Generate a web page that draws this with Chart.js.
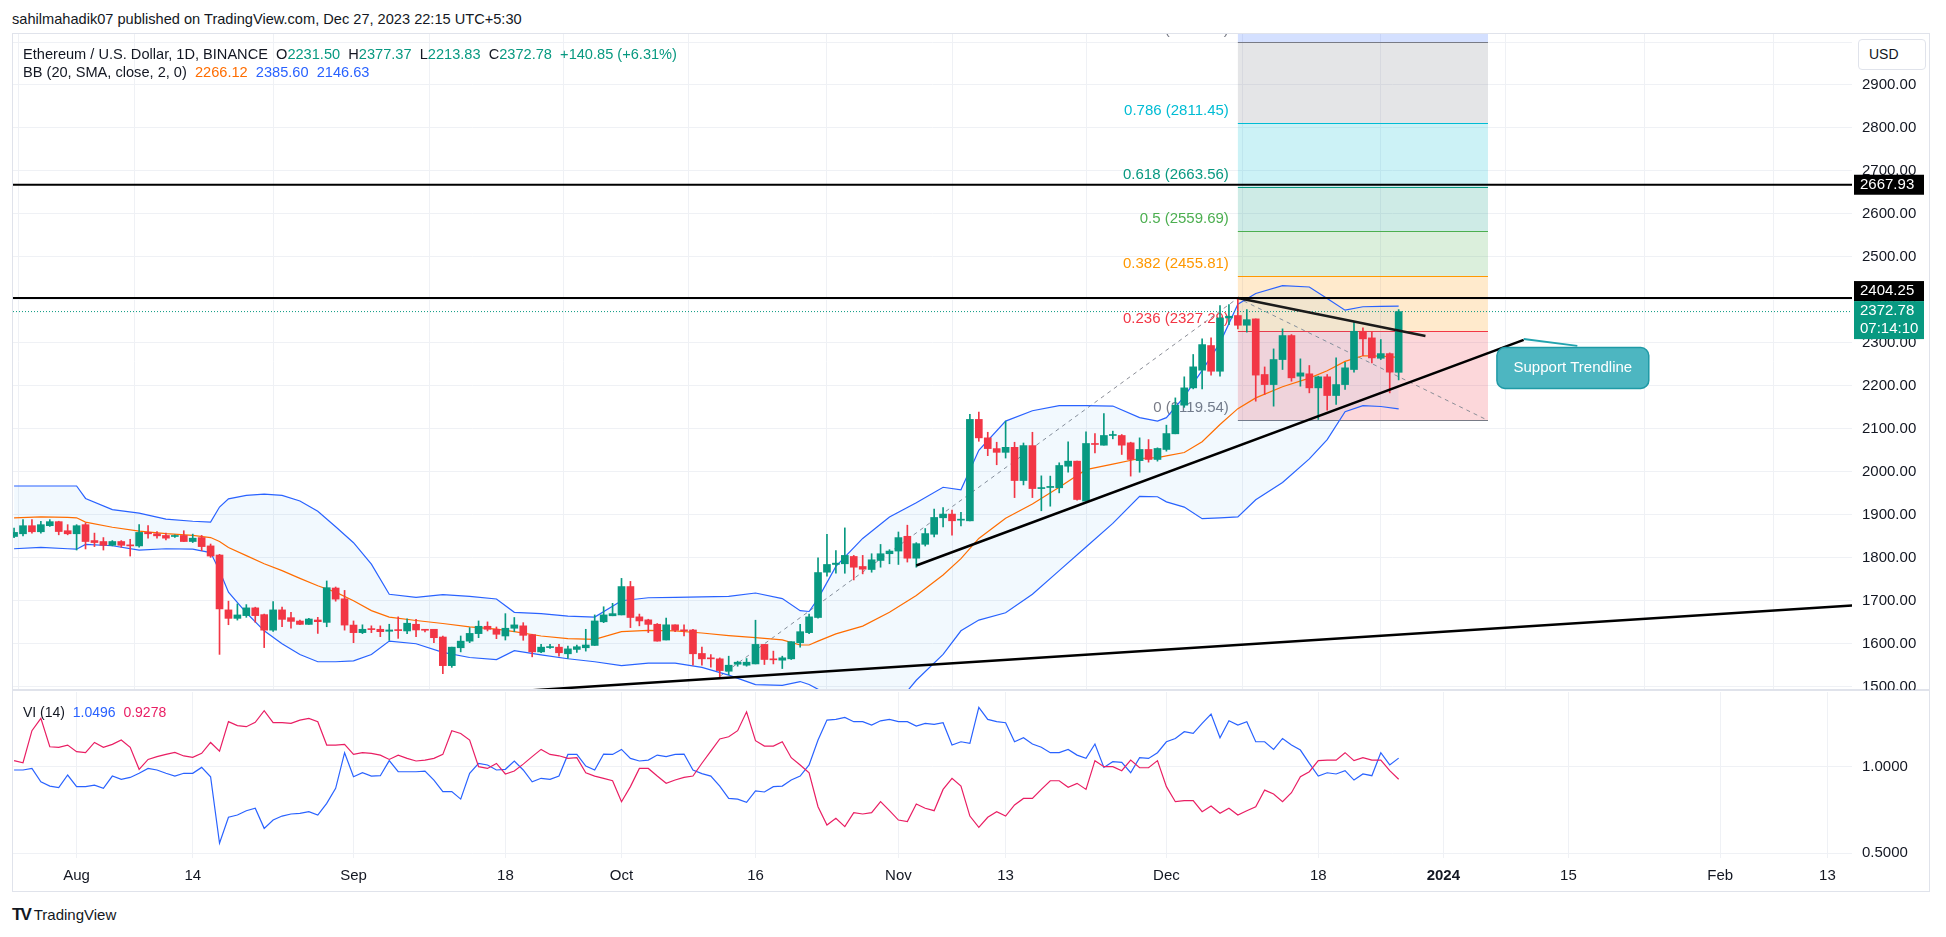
<!DOCTYPE html>
<html lang="en">
<head>
<meta charset="UTF-8" />
<title>ETHUSD 1D</title>
<script src="https://cdn.jsdelivr.net/npm/chart.js"></script>
<style>
  html, body { margin: 0; padding: 0; background: #fff; }
  body { position: relative; width: 1946px; height: 937px; overflow: hidden;
         font-family: "Liberation Sans", Arial, sans-serif; color: #131722; }
  .abs { position: absolute; }
  #pub { left: 12px; top: 11px; font-size: 14.6px; }
  #frame { left: 12px; top: 33px; width: 1918px; height: 859px; border: 1px solid #e0e3eb; box-sizing: border-box; }
  #sep { left: 12px; top: 689px; width: 1918px; height: 2px; background: #e0e3eb; }
  #mainBox { left: 0; top: 0; }
  #viBox { left: 0; top: 690px; }
  .legend { font-size: 14.6px; white-space: pre; z-index: 3; line-height: 18px; }
  #leg1 { left: 23px; top: 45px; }
  #leg2 { left: 23px; top: 63px; }
  #legVI { left: 23px; top: 703px; font-size: 14px; }
  #usd { left: 1858px; top: 39px; width: 68px; height: 31px; box-sizing: border-box; border: 1px solid #e0e3eb;
         border-radius: 4px; background: #fff; font-size: 14px; line-height: 29px; padding-left: 10px; z-index: 3; }
  #logo { left: 12px; top: 905px; font-size: 15px; }
  #logo b { font-size: 17px; letter-spacing: -2px; margin-right: 4px; }
</style>
</head>
<body>
<div id="pub" class="abs">sahilmahadik07 published on TradingView.com, Dec 27, 2023 22:15 UTC+5:30</div>
<div id="frame" class="abs"></div>
<div id="sep" class="abs"></div>
<div id="mainBox" class="abs"><canvas id="main" width="1946" height="690"></canvas></div>
<div id="viBox" class="abs"><canvas id="vi" width="1946" height="210"></canvas></div>
<div id="leg1" class="abs legend"></div>
<div id="leg2" class="abs legend"></div>
<div id="legVI" class="abs legend"></div>
<div id="usd" class="abs">USD</div>
<div id="logo" class="abs"><b>TV</b>TradingView</div>
<script>
// ---- daily candles, one per day from firstCandle ----
const firstCandle = '2023-07-25'
const opens = [
  1849.5, 1855.8, 1874.6, 1860.5, 1874.6, 1884.0, 1862.9,
  1855.8, 1877.0, 1840.0, 1837.8, 1829.0, 1837.8, 1830.0, 1827.6, 1859.0, 1855.8,
  1851.9, 1849.5, 1851.9, 1837.8, 1847.0, 1827.6, 1806.4, 1678.7, 1659.0, 1665.4,
  1683.4, 1667.7, 1631.6, 1678.7, 1660.6, 1652.8, 1645.0, 1655.2, 1649.7, 1729.6,
  1704.5, 1643.4, 1625.8, 1635.0, 1633.6, 1629.0, 1632.0, 1629.7, 1645.3, 1633.6,
  1633.6, 1615.6, 1549.0, 1590.6, 1606.0, 1623.5, 1640.6, 1633.6, 1618.0, 1636.0,
  1641.6, 1621.0, 1581.0, 1591.0, 1592.0, 1576.6, 1586.7, 1590.6, 1596.0, 1651.0,
  1665.0, 1667.0, 1733.0, 1662.5, 1655.5, 1645.3, 1608.6, 1644.0, 1632.0, 1632.0,
  1577.3, 1567.0, 1564.8, 1536.0, 1552.3, 1550.0, 1553.0, 1598.4, 1564.8, 1561.7,
  1564.8, 1602.3, 1625.8, 1661.0, 1766.4, 1784.4, 1786.0, 1803.0, 1779.7, 1772.7,
  1793.7, 1809.4, 1815.6, 1850.0, 1799.0, 1831.3, 1854.7, 1893.0, 1901.6, 1887.5,
  1885.9, 2121.9, 2079.0, 2054.0, 2045.3, 2057.0, 1979.7, 2061.0, 1961.0, 1963.5,
  1962.8, 2013.0, 2024.8, 1931.8, 2065.9, 2061.9, 2084.5, 2084.5, 2067.4, 2026.0,
  2052.0, 2028.7, 2052.0, 2088.4, 2155.0, 2195.3, 2236.4, 2293.8, 2234.0, 2358.0,
  2363.6, 2341.0, 2355.8, 2226.4, 2203.0, 2261.2, 2317.0, 2222.5, 2228.0, 2195.3,
  2221.0, 2177.5, 2203.0, 2238.0, 2327.0, 2311.6, 2264.2, 2275.0, 2231.50
]
const highs = [
  1869.0, 1888.7, 1888.7, 1884.8, 1888.7, 1885.0, 1877.0,
  1877.0, 1881.0, 1857.4, 1847.0, 1840.0, 1840.0, 1843.0, 1877.0, 1874.6, 1861.0,
  1857.4, 1853.4, 1862.9, 1855.0, 1852.0, 1832.0, 1808.0, 1699.0, 1692.8, 1691.0,
  1685.0, 1669.0, 1698.0, 1685.0, 1673.0, 1655.0, 1659.0, 1661.4, 1746.0, 1732.0,
  1724.0, 1653.0, 1644.0, 1641.6, 1641.6, 1645.3, 1662.5, 1657.8, 1657.0, 1633.6,
  1633.6, 1618.0, 1592.0, 1618.0, 1637.5, 1653.0, 1650.8, 1639.0, 1670.0, 1661.0,
  1649.0, 1622.0, 1598.5, 1598.5, 1598.5, 1594.5, 1597.0, 1633.6, 1667.0, 1686.0,
  1694.0, 1752.0, 1745.0, 1669.0, 1657.0, 1647.0, 1659.4, 1644.0, 1644.0, 1633.6,
  1592.0, 1575.0, 1567.0, 1571.0, 1559.4, 1565.6, 1654.7, 1598.4, 1582.8, 1571.0,
  1604.7, 1645.3, 1668.8, 1800.0, 1854.7, 1817.0, 1869.5, 1805.5, 1805.5, 1809.4,
  1831.0, 1818.8, 1860.0, 1875.8, 1835.2, 1868.0, 1913.3, 1917.0, 1911.0, 1905.5,
  2133.6, 2139.0, 2092.0, 2068.8, 2118.0, 2068.8, 2067.0, 2092.0, 1990.6, 1990.0,
  2021.0, 2069.8, 2024.8, 2093.0, 2089.0, 2135.7, 2094.6, 2086.8, 2068.9, 2079.0,
  2075.0, 2055.8, 2108.5, 2172.0, 2221.0, 2273.0, 2309.3, 2311.6, 2386.8, 2389.0,
  2404.3, 2377.5, 2355.8, 2244.0, 2286.0, 2332.6, 2319.4, 2262.8, 2247.3, 2222.5,
  2226.4, 2265.0, 2255.0, 2350.4, 2334.9, 2327.0, 2307.8, 2276.7, 2377.37
]
const lows = [
  1847.0, 1851.0, 1857.4, 1857.4, 1873.0, 1853.4, 1853.4,
  1818.0, 1820.5, 1826.0, 1818.0, 1827.6, 1824.5, 1804.0, 1824.5, 1845.6, 1845.6,
  1841.7, 1847.2, 1837.8, 1835.4, 1816.6, 1801.0, 1575.2, 1644.2, 1655.0, 1661.4,
  1650.0, 1591.0, 1628.5, 1639.5, 1636.4, 1644.2, 1645.0, 1624.0, 1639.5, 1699.0,
  1631.6, 1602.4, 1623.5, 1625.8, 1616.4, 1607.8, 1612.5, 1623.5, 1616.4, 1627.3,
  1602.4, 1530.5, 1545.0, 1581.0, 1602.4, 1614.0, 1629.7, 1611.7, 1608.6, 1628.0,
  1608.0, 1569.5, 1578.9, 1589.0, 1571.0, 1565.6, 1580.0, 1582.8, 1596.0, 1649.0,
  1665.0, 1667.0, 1637.5, 1641.6, 1626.0, 1606.0, 1608.6, 1628.0, 1618.0, 1550.0,
  1550.0, 1545.3, 1520.3, 1528.0, 1547.7, 1547.7, 1553.0, 1551.6, 1553.0, 1542.2,
  1563.3, 1592.0, 1623.4, 1659.4, 1757.0, 1764.0, 1764.0, 1748.4, 1762.5, 1766.4,
  1778.0, 1786.0, 1784.4, 1790.0, 1778.0, 1827.3, 1848.4, 1871.9, 1852.3, 1874.2,
  1885.9, 2071.0, 2037.5, 2016.4, 2032.0, 1940.0, 1969.5, 1940.0, 1909.4, 1920.0,
  1951.0, 1999.0, 1934.0, 1931.8, 2044.0, 2061.9, 2076.7, 2040.3, 1990.0, 1999.0,
  2022.5, 2024.8, 2048.0, 2088.4, 2150.0, 2193.0, 2193.0, 2224.8, 2222.5, 2342.6,
  2332.6, 2325.0, 2164.3, 2180.0, 2152.7, 2238.0, 2210.8, 2199.2, 2183.7, 2121.7,
  2143.4, 2156.6, 2191.5, 2231.8, 2270.5, 2253.5, 2261.2, 2183.7, 2213.83
]
const closes = [
  1859.0, 1874.6, 1860.5, 1877.0, 1884.0, 1861.0, 1855.8,
  1874.6, 1837.8, 1835.4, 1829.0, 1837.8, 1829.0, 1827.6, 1859.0, 1855.8, 1851.0,
  1845.6, 1851.9, 1837.8, 1845.6, 1826.0, 1804.0, 1681.0, 1659.0, 1667.0, 1683.4,
  1665.4, 1631.6, 1678.7, 1656.7, 1652.0, 1645.0, 1657.5, 1651.3, 1730.4, 1703.8,
  1643.4, 1625.8, 1633.6, 1632.8, 1628.0, 1632.0, 1630.5, 1647.7, 1632.0, 1631.3,
  1614.0, 1549.0, 1592.0, 1606.0, 1624.0, 1640.6, 1633.6, 1622.0, 1636.0, 1643.8,
  1619.5, 1581.0, 1592.0, 1593.0, 1579.0, 1588.0, 1593.0, 1597.0, 1653.0, 1667.0,
  1670.0, 1733.0, 1661.0, 1653.0, 1645.0, 1606.0, 1644.0, 1631.3, 1630.0, 1576.6,
  1564.8, 1564.8, 1537.5, 1550.0, 1557.0, 1557.0, 1598.4, 1563.3, 1562.5, 1567.2,
  1604.7, 1628.0, 1662.5, 1765.6, 1784.4, 1787.5, 1805.5, 1778.0, 1773.4, 1795.3,
  1809.4, 1815.6, 1846.9, 1799.0, 1832.8, 1856.3, 1893.8, 1901.6, 1886.0, 1889.8,
  2121.9, 2079.0, 2054.0, 2045.3, 2057.0, 1979.7, 2061.0, 1961.0, 1963.3, 1966.0,
  2014.7, 2024.8, 1935.6, 2065.9, 2063.6, 2084.5, 2086.8, 2062.0, 2028.7, 2052.0,
  2028.7, 2054.3, 2089.0, 2155.0, 2195.3, 2244.2, 2296.0, 2234.0, 2358.0, 2362.0,
  2341.0, 2354.0, 2225.0, 2203.0, 2261.2, 2317.0, 2218.6, 2230.2, 2195.3, 2221.0,
  2177.5, 2203.0, 2241.9, 2327.0, 2309.3, 2265.0, 2275.0, 2231.93, 2372.78
]

// ---- Bollinger Bands (20, 2), read at these dates (2023) ----
const bbDates = ['07-25','07-28','07-31','08-01','08-02','08-05','08-08','08-11','08-14','08-16','08-17','08-18',
  '08-20','08-22','08-24','08-26','08-28','08-30','09-01','09-03','09-05','09-08','09-11','09-14','09-17','09-19',
  '09-22','09-25','09-28','10-01','10-04','10-07','10-10','10-13','10-16','10-19','10-21','10-22','10-23','10-25',
  '10-28','10-31','11-03','11-06','11-08','11-10','11-13','11-16','11-19','11-22','11-25','11-28','11-30','12-01',
  '12-03','12-05','12-07','12-09','12-11','12-14','12-17','12-19','12-21','12-23','12-25','12-27']
const bbUpper = [1967, 1967, 1967, 1967, 1938, 1912, 1904, 1890, 1885, 1883, 1918, 1937, 1945, 1948, 1945, 1932,
  1908, 1872, 1835, 1785, 1715, 1708, 1714, 1710, 1704, 1673, 1670, 1664, 1662, 1700, 1707, 1708, 1709, 1710, 1718,
  1705, 1677, 1675, 1705, 1780, 1845, 1895, 1928, 1964, 1958, 2050, 2118, 2142, 2154, 2154, 2153, 2126, 2118, 2126,
  2175, 2236, 2300, 2390, 2415, 2433, 2430, 2403, 2376, 2384, 2385, 2385.60]
const bbBasis = [1893, 1895, 1894, 1893, 1883, 1871, 1862, 1856, 1852, 1847, 1838, 1824, 1805, 1786, 1770, 1752,
  1735, 1720, 1700, 1677, 1662, 1654, 1647, 1639, 1634, 1628, 1618, 1612, 1610, 1628, 1631, 1630, 1625, 1619, 1614,
  1609, 1597, 1597, 1606, 1623, 1641, 1673, 1712, 1760, 1798, 1845, 1892, 1925, 1964, 2005, 2018, 2031, 2033, 2037,
  2045, 2070, 2110, 2147, 2172, 2198, 2218, 2235, 2257, 2270, 2269, 2266.12]
const bbLower = [1821, 1824, 1821, 1820, 1831, 1828, 1818, 1821, 1820, 1812, 1770, 1720, 1672, 1630, 1600, 1575,
  1558, 1558, 1560, 1575, 1606, 1600, 1580, 1568, 1563, 1584, 1574, 1565, 1558, 1549, 1555, 1555, 1545, 1527, 1505,
  1503, 1512, 1505, 1494, 1455, 1420, 1440, 1515, 1575, 1630, 1655, 1672, 1715, 1770, 1825, 1880, 1943, 1942, 1930,
  1918, 1891, 1893, 1895, 1935, 1975, 2030, 2075, 2140, 2154, 2152, 2146.63]

// ---- Vortex Indicator (14), one value per candle ----
const viPlus = [
  0.981, 0.981, 0.99, 0.913, 0.888, 0.879, 0.952,
  0.885, 0.885, 0.894, 0.875, 0.946, 0.927, 0.938, 0.962, 0.99, 0.981,
  0.962, 0.946, 0.962, 0.962, 0.996, 0.942, 0.558, 0.708, 0.721, 0.746,
  0.76, 0.644, 0.692, 0.715, 0.727, 0.731, 0.74, 0.721, 0.788, 0.875,
  1.081, 0.942, 0.965, 0.946, 0.948, 1.035, 0.971, 0.971, 0.971, 0.975,
  0.923, 0.856, 0.856, 0.813, 0.962, 1.019, 1.01, 0.981, 0.985, 1.033,
  0.981, 0.913, 0.933, 0.927, 0.946, 1.071, 1.071, 1.004, 0.981, 1.073,
  1.071, 1.1, 1.048, 1.033, 1.038, 1.067, 1.058, 1.071, 1.073, 0.981,
  0.96, 0.946, 0.888, 0.817, 0.813, 0.794, 0.86, 0.854, 0.885, 0.888,
  0.923, 0.946, 1.01, 1.154, 1.269, 1.273, 1.285, 1.26, 1.26, 1.24,
  1.265, 1.273, 1.26, 1.26, 1.235, 1.25, 1.244, 1.254, 1.125, 1.144,
  1.135, 1.342, 1.273, 1.26, 1.254, 1.144, 1.167, 1.131, 1.112, 1.081,
  1.081, 1.1, 1.067, 1.048, 1.131, 0.996, 1.029, 1.025, 0.965, 1.052,
  1.048, 1.081, 1.144, 1.163, 1.202, 1.192, 1.25, 1.304, 1.167, 1.265,
  1.24, 1.26, 1.144, 1.144, 1.1, 1.163, 1.125, 1.096, 1.019, 0.946,
  0.965, 0.958, 0.977, 0.923, 0.958, 0.948, 1.081, 1.01, 1.0496
]
const viMinus = [
  1.035, 1.023, 1.208, 1.279, 1.115, 1.112, 1.125,
  1.087, 1.081, 1.14, 1.112, 1.129, 1.154, 1.112, 0.985, 1.042, 1.058,
  1.071, 1.083, 1.062, 1.054, 1.077, 1.14, 1.09, 1.26, 1.237, 1.231,
  1.256, 1.323, 1.254, 1.254, 1.25, 1.269, 1.279, 1.26, 1.125, 1.125,
  1.129, 1.071, 1.081, 1.077, 1.067, 1.042, 1.067, 1.048, 1.033, 1.038,
  1.048, 1.071, 1.208, 1.192, 1.154, 1.0, 0.99, 1.019, 0.958, 0.975,
  1.015, 1.058, 1.1, 1.071, 1.063, 1.048, 1.052, 0.965, 0.946, 0.933,
  0.919, 0.798, 0.885, 0.99, 0.99, 0.946, 0.904, 0.923, 0.938, 0.946,
  1.02, 1.09, 1.16, 1.173, 1.208, 1.317, 1.15, 1.119, 1.119, 1.144,
  1.052, 1.01, 0.965, 0.769, 0.663, 0.702, 0.654, 0.735, 0.727, 0.735,
  0.798, 0.746, 0.692, 0.683, 0.785, 0.76, 0.746, 0.869, 0.933, 0.888,
  0.715, 0.65, 0.708, 0.74, 0.715, 0.779, 0.817, 0.817, 0.869, 0.919,
  0.919, 0.881, 0.904, 0.869, 1.035, 1.0, 1.0, 0.977, 1.038, 0.994,
  0.994, 1.035, 0.885, 0.798, 0.804, 0.804, 0.74, 0.773, 0.731, 0.76,
  0.721, 0.746, 0.769, 0.865, 0.842, 0.798, 0.85, 0.942, 0.971, 1.035,
  1.038, 1.038, 1.081, 1.035, 1.052, 1.038, 1.038, 0.977, 0.9278
]

// ---- axes ----
const tickDates = ['2023-08-01','2023-08-14','2023-09-01','2023-09-18','2023-10-01','2023-10-16','2023-11-01',
  '2023-11-13','2023-12-01','2023-12-18','2024-01-01','2024-01-15','2024-02-01','2024-02-13']
const tickLabels = ['Aug','14','Sep','18','Oct','16','Nov','13','Dec','18','2024','15','Feb','13']
const priceTicks = [1500, 1600, 1700, 1800, 1900, 2000, 2100, 2200, 2300, 2400, 2500, 2600, 2700, 2800, 2900, 3000]
const priceLabelMax = 2900
const viTicks = [0.5, 1]

// ---- drawings ----
const fibRatios = [0, 0.236, 0.382, 0.5, 0.618, 0.786, 1, 1.618]
const fibPrices = [2119.54, 2327.29, 2455.81, 2559.69, 2663.56, 2811.45, 2999.84, 3543.76]
const fibPoints = [['2023-10-12', 1523.95], ['2023-12-09', 2404.25], ['2024-01-06', 2119.54]]
const keyLevels = [2667.93, 2404.25]
const countdown = '07:14:10'
const resistanceLine = [['2023-12-09', 2404.2], ['2023-12-30', 2316]]
const supportLine = [['2023-11-03', 1782], ['2024-01-10', 2307]]
const baseLine = [['2023-09-10', 1477], ['2024-02-16', 1689]]
const callout = { text: 'Support Trendline', from: '2024-01-07', to: '2024-01-24', top: 2289, bottom: 2194,
  tail: [['2024-01-10', 2309], ['2024-01-16', 2293]] }

// ---- helpers ----
const GREEN = '#089981', RED = '#f23645', BLUE = '#2962ff', ORANGE = '#ff6d00', PINK = '#e91e63'
const GRID = '#eff1f5', TEXT = '#131722'
const FONT = '"Liberation Sans", Arial, sans-serif'
const day = s => {
  const [y, m, d] = s.split('-').map(Number)
  return Math.round((Date.UTC(y, m - 1, d) - Date.UTC(2023, 7, 1)) / 864e5)
}
const X_MIN = -7.12, X_MAX = 198.75
const tickX = tickDates.map(day)
const pts = arr => arr.map(([s, p]) => ({ x: day(s), y: p }))

const d0 = day(firstCandle)
const candleX = opens.map((_, i) => d0 + i)
const colors = opens.map((o, i) => (closes[i] >= o ? GREEN : RED))
const bbX = bbDates.map(s => day('2023-' + s))
const last = closes.length - 1

Chart.defaults.font.family = FONT
Chart.defaults.font.size = 15
Chart.defaults.color = TEXT

// legends
const g = v => `<span style="color:${GREEN}">${v}</span>`
const chg = closes[last] - closes[last - 1]
document.getElementById('leg1').innerHTML =
  `Ethereum / U.S. Dollar, 1D, BINANCE  O${g(opens[last].toFixed(2))}  H${g(highs[last].toFixed(2))}  L${g(lows[last].toFixed(2))}  C${g(closes[last].toFixed(2))}  ${g('+' + chg.toFixed(2) + ' (+' + (chg / closes[last - 1] * 100).toFixed(2) + '%)')}`
document.getElementById('leg2').innerHTML =
  `BB (20, SMA, close, 2, 0)  <span style="color:${ORANGE}">${bbBasis.at(-1).toFixed(2)}</span>  <span style="color:${BLUE}">${bbUpper.at(-1).toFixed(2)}</span>  <span style="color:${BLUE}">${bbLower.at(-1).toFixed(2)}</span>`
document.getElementById('legVI').innerHTML =
  `VI (14)  <span style="color:${BLUE}">${viPlus.at(-1).toFixed(4)}</span>  <span style="color:${PINK}">${viMinus.at(-1).toFixed(4)}</span>`

const fibLine = ['#787b86', '#f23645', '#ff9800', '#4caf50', '#089981', '#00bcd4', '#787b86', '#2962ff']
const fibFill = ['rgba(242,54,69,0.2)', 'rgba(255,152,0,0.2)', 'rgba(76,175,80,0.2)', 'rgba(8,153,129,0.2)',
  'rgba(0,188,212,0.2)', 'rgba(120,123,134,0.2)', 'rgba(41,98,255,0.2)']

const overlay = {
  id: 'overlay',
  beforeDatasetsDraw(chart) {
    const { ctx, chartArea: a, scales: { x, y } } = chart
    const xl = x.getPixelForValue(day(fibPoints[1][0]))
    const xr = x.getPixelForValue(day(fibPoints[2][0]))
    ctx.save()
    ctx.beginPath()
    ctx.rect(a.left, a.top, a.right - a.left, a.bottom - a.top)
    ctx.clip()
    for (let i = 0; i < fibPrices.length - 1; i++) {
      const y0 = y.getPixelForValue(fibPrices[i]), y1 = y.getPixelForValue(fibPrices[i + 1])
      ctx.fillStyle = fibFill[i]
      ctx.fillRect(xl, y1, xr - xl, y0 - y1)
    }
    ctx.font = '15px ' + FONT
    ctx.textAlign = 'right'
    ctx.textBaseline = 'middle'
    for (let i = 0; i < fibPrices.length - 1; i++) {
      const py = Math.round(y.getPixelForValue(fibPrices[i])) + 0.5
      ctx.strokeStyle = fibLine[i]
      ctx.lineWidth = 1
      ctx.beginPath(); ctx.moveTo(xl, py); ctx.lineTo(xr, py); ctx.stroke()
      ctx.fillStyle = fibLine[i]
      ctx.fillText(`${fibRatios[i]} (${fibPrices[i].toFixed(2)})`, xl - 9, py - 13)
    }
    ctx.setLineDash([4, 4])
    ctx.strokeStyle = '#8a8d96'
    ctx.beginPath()
    fibPoints.forEach(([s, p], k) => {
      const px = x.getPixelForValue(day(s)), py = y.getPixelForValue(p)
      k ? ctx.lineTo(px, py) : ctx.moveTo(px, py)
    })
    ctx.stroke()
    ctx.restore()
  },
  afterDatasetsDraw(chart) {
    const { ctx, scales: { x, y } } = chart
    const c = callout
    const t = c.tail.map(([s, p]) => [x.getPixelForValue(day(s)), y.getPixelForValue(p)])
    ctx.save()
    ctx.strokeStyle = '#22a3ae'
    ctx.lineWidth = 2
    ctx.beginPath(); ctx.moveTo(t[0][0], t[0][1]); ctx.lineTo(t[1][0], t[1][1]); ctx.stroke()
    const bx = x.getPixelForValue(day(c.from)), bw = x.getPixelForValue(day(c.to)) - bx
    const by = y.getPixelForValue(c.top), bh = y.getPixelForValue(c.bottom) - by
    ctx.beginPath()
    ctx.roundRect(bx, by, bw, bh, 8)
    ctx.fillStyle = '#4db6c1'
    ctx.fill()
    ctx.lineWidth = 1.5
    ctx.strokeStyle = '#1f9aa6'
    ctx.stroke()
    ctx.fillStyle = '#fff'
    ctx.font = '15px ' + FONT
    ctx.textAlign = 'center'
    ctx.textBaseline = 'middle'
    ctx.fillText(c.text, bx + bw / 2, by + bh / 2)
    ctx.restore()
  },
  afterDraw(chart) {
    const { ctx, chartArea: a, scales: { y } } = chart
    const bx = a.right + 2, bw = 70
    ctx.save()
    ctx.font = '15px ' + FONT
    ctx.textBaseline = 'middle'
    ctx.textAlign = 'left'
    const box = (top, h, fill, lines) => {
      ctx.fillStyle = fill
      ctx.fillRect(bx, top, bw, h)
      ctx.fillStyle = '#fff'
      lines.forEach((s, i) => ctx.fillText(s, bx + 6, top + 10 + i * 18))
    }
    box(y.getPixelForValue(keyLevels[0]) - 10, 20, '#000', [keyLevels[0].toFixed(2)])
    box(y.getPixelForValue(keyLevels[1]) - 17, 20, '#000', [keyLevels[1].toFixed(2)])
    box(y.getPixelForValue(closes[last]) - 10.5, 38, GREEN, [closes[last].toFixed(2), countdown])
    ctx.restore()
  }
}

const flat = p => [{ x: X_MIN, y: p }, { x: X_MAX, y: p }]
const line = (data, color, width, extra) => Object.assign({
  type: 'line', data, borderColor: color, borderWidth: width, pointRadius: 0, tension: 0, fill: false
}, extra || {})

new Chart(document.getElementById('main'), {
  type: 'line',
  data: {
    datasets: [
      line(bbX.map((x, i) => ({ x, y: bbUpper[i] })), BLUE, 1.2,
        { fill: { target: 2 }, backgroundColor: 'rgba(33,150,243,0.06)', order: 10 }),
      line(bbX.map((x, i) => ({ x, y: bbBasis[i] })), ORANGE, 1.2, { order: 9 }),
      line(bbX.map((x, i) => ({ x, y: bbLower[i] })), BLUE, 1.2, { order: 10 }),
      { type: 'bar', data: candleX.map((x, i) => ({ x, y: [lows[i], highs[i]] })), backgroundColor: colors,
        barThickness: 1, grouped: false, minBarLength: 1, order: 6 },
      { type: 'bar', data: candleX.map((x, i) => ({ x, y: [opens[i], closes[i]] })), backgroundColor: colors,
        barThickness: 7, grouped: false, minBarLength: 1, order: 5 },
      line(flat(closes[last]), GREEN, 1, { borderDash: [1, 2], order: 4 }),
      line(pts(baseLine), '#000', 2.5, { order: 2 }),
      line(pts(supportLine), '#000', 2.5, { order: 2 }),
      line(pts(resistanceLine), '#1a1a1a', 2.5, { order: 2 }),
      line(flat(keyLevels[0]), '#000', 2, { order: 1 }),
      line(flat(keyLevels[1]), '#000', 2, { order: 1 })
    ]
  },
  options: {
    responsive: false, animation: false, events: [],
    layout: { padding: { left: 13, top: 34, right: 0, bottom: 1 }, autoPadding: false },
    plugins: { legend: { display: false }, tooltip: { enabled: false } },
    scales: {
      x: {
        type: 'linear', min: X_MIN, max: X_MAX, offset: false,
        afterBuildTicks: s => { s.ticks = tickX.map(value => ({ value })) },
        afterFit: s => { s.height = 0; s.paddingLeft = 0; s.paddingRight = 0 },
        ticks: { display: false }, grid: { color: GRID, drawTicks: false }, border: { display: false }
      },
      y: {
        position: 'right', min: 1494.65, max: 3018.66,
        afterBuildTicks: s => { s.ticks = priceTicks.map(value => ({ value })) },
        afterFit: s => { s.width = 94; s.paddingTop = 0; s.paddingBottom = 0 },
        ticks: { padding: 10, callback: v => (v > priceLabelMax ? '' : v.toFixed(2)), color: TEXT },
        grid: { color: GRID, drawTicks: false }, border: { display: false }
      }
    }
  },
  plugins: [overlay]
})

new Chart(document.getElementById('vi'), {
  type: 'line',
  data: {
    datasets: [
      line(candleX.map((x, i) => ({ x, y: viMinus[i] })), PINK, 1.2),
      line(candleX.map((x, i) => ({ x, y: viPlus[i] })), BLUE, 1.2)
    ]
  },
  options: {
    responsive: false, animation: false, events: [],
    layout: { padding: { left: 13, top: 2, right: 0, bottom: 0 }, autoPadding: false },
    plugins: { legend: { display: false }, tooltip: { enabled: false } },
    scales: {
      x: {
        type: 'linear', min: X_MIN, max: X_MAX, offset: false,
        afterBuildTicks: s => { s.ticks = tickX.map(value => ({ value })) },
        afterFit: s => { s.height = 42; s.paddingLeft = 0; s.paddingRight = 0 },
        ticks: {
          autoSkip: false, maxRotation: 0, padding: 9, color: TEXT,
          callback: (v, i) => tickLabels[i],
          font: c => ({ size: 15, weight: tickLabels[c.index] === '2024' ? 'bold' : 'normal' })
        },
        grid: { color: GRID, drawTicks: false }, border: { display: false }
      },
      y: {
        position: 'right', min: 0.4729, max: 1.4313,
        afterBuildTicks: s => { s.ticks = viTicks.map(value => ({ value })) },
        afterFit: s => { s.width = 94; s.paddingTop = 0; s.paddingBottom = 0 },
        ticks: { padding: 10, callback: v => v.toFixed(4), color: TEXT },
        grid: { color: GRID, drawTicks: false }, border: { display: false }
      }
    }
  }
})
</script>
</body>
</html>
